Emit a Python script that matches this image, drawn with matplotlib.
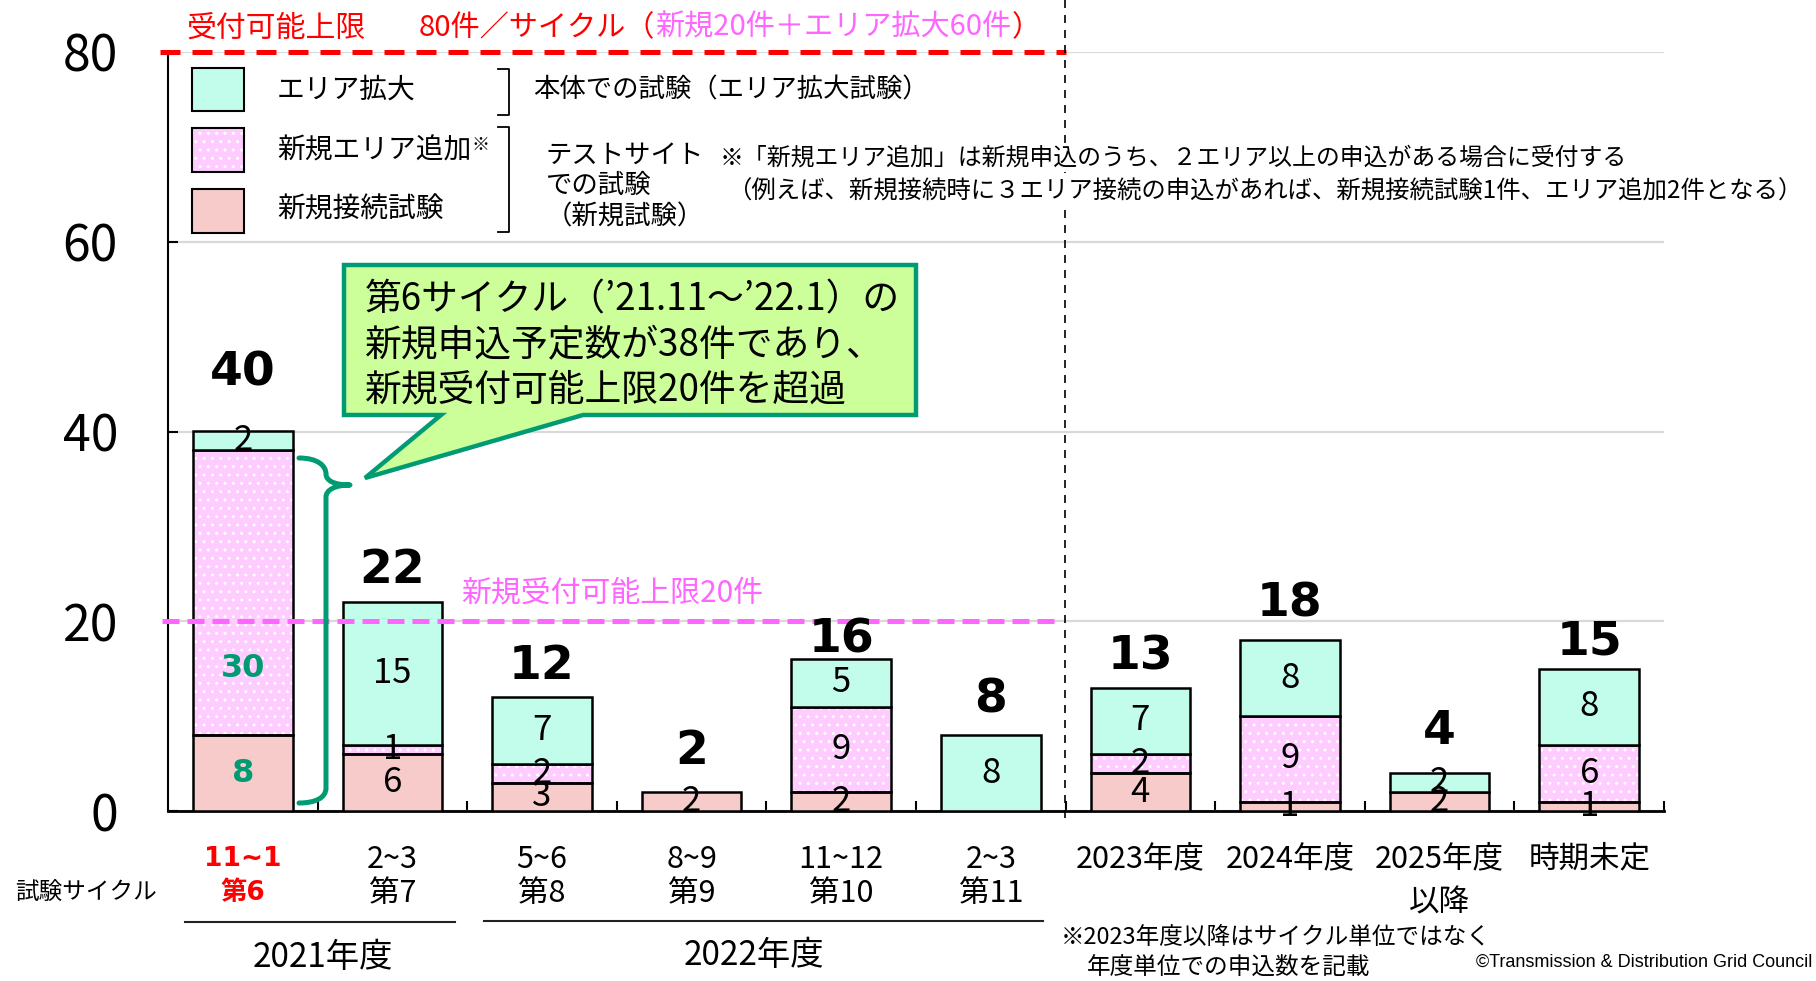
import matplotlib
matplotlib.use('Agg')
import matplotlib.pyplot as plt
from matplotlib import transforms
from matplotlib.patches import Rectangle, Polygon, PathPatch
from matplotlib.path import Path
import numpy as np

plt.rcParams['font.family'] = ['Noto Sans CJK JP', 'DejaVu Sans']

# ---------------- data ----------------
periods = ['11~1', '2~3', '5~6', '8~9', '11~12', '2~3',
           '2023年度', '2024年度', '2025年度', '時期未定']
cycles = ['第6', '第7', '第8', '第9', '第10', '第11', '', '', '以降', '']
new_connection = [8, 6, 3, 2, 2, 0, 4, 1, 2, 1]      # 新規接続試験
new_area = [30, 1, 2, 0, 9, 0, 2, 9, 0, 6]           # 新規エリア追加
area_expansion = [2, 15, 7, 0, 5, 8, 7, 8, 2, 8]     # エリア拡大
yticks = [0, 20, 40, 60, 80]
limit_total = 80
limit_new = 20
fiscal_groups = ['2021年度', '2022年度']
highlight = 0

# ---------------- style / layout ----------------
C_CYAN = '#C2FCEB'
C_PINK = '#FFCCFF'
C_SALMON = '#F8CBCB'
C_GREEN = '#009B72'
C_RED = '#FF0000'
C_MAG = '#FF66FF'
total_offsets = [42, 23, 22, 29, 14, 25, 22, 26, 30, 19]   # points above bar top
label_y_override = {(0, 1): 15}   # (bar, series) -> label y position

W, H = 1816, 981
fig = plt.figure(figsize=(W / 100, H / 100), dpi=100)
ax = fig.add_axes([168 / W, 1 - 811 / H, (1664 - 168) / W, (811 - 52) / H])
PX = transforms.Affine2D().scale(1 / W, -1 / H).translate(0, 1) + fig.transFigure


def T(xp, yp, s, **kw):
    kw.setdefault('va', 'center')
    return fig.text(xp, yp, s, transform=PX, **kw)


x = np.arange(len(periods))
bw = 0.665
nc = np.array(new_connection)
na = np.array(new_area)
ae = np.array(area_expansion)
totals = nc + na + ae

ax.set_xlim(-0.5, len(periods) - 0.5)
ax.set_ylim(0, 80)
for s in ['top', 'right']:
    ax.spines[s].set_visible(False)
ax.spines['left'].set_linewidth(1.5)
ax.spines['bottom'].set_linewidth(2.0)
ax.set_yticks(yticks)
ax.set_yticklabels([str(v) for v in yticks])
ax.tick_params(axis='y', direction='in', length=7, width=1.5, pad=36, labelsize=36)
ax.set_xticks([])
ax.set_xticks(x + 0.5, minor=True)
ax.tick_params(axis='x', which='minor', direction='in', length=7, width=1.5)
ax.yaxis.grid(True, color='#D9D9D9', lw=1.6)
ax.set_axisbelow(True)


def stack(vals, bottoms, color, hatch=None):
    m = vals > 0
    if hatch:
        ax.bar(x[m], vals[m], bw, bottom=bottoms[m], color=color, edgecolor='white',
               hatch=hatch, linewidth=0, zorder=2)
        ax.bar(x[m], vals[m], bw, bottom=bottoms[m], fill=False, edgecolor='black',
               linewidth=1.8, zorder=3)
    else:
        ax.bar(x[m], vals[m], bw, bottom=bottoms[m], color=color, edgecolor='black',
               linewidth=1.8, zorder=3)


b0 = np.zeros(len(x))
stack(nc, b0, C_SALMON)
stack(na, nc, C_PINK, hatch='..')
stack(ae, nc + na, C_CYAN)

for k, (vals, bottoms, is_new) in enumerate([(nc, b0, True), (na, nc, True),
                                             (ae, nc + na, False)]):
    for i, v in enumerate(vals):
        if v <= 0:
            continue
        yy = label_y_override.get((i, k), bottoms[i] + v / 2)
        if i == highlight and is_new:
            ax.text(i, yy, str(v), ha='center', va='center', fontsize=23,
                    color=C_GREEN, fontweight='bold', family=['DejaVu Sans'], zorder=6)
        else:
            ax.text(i, yy, str(v), ha='center', va='center', fontsize=25, zorder=6)

for i, t in enumerate(totals):
    ax.annotate(str(t), xy=(i, t), xytext=(0, total_offsets[i]), textcoords='offset points',
                ha='center', va='center', fontsize=34, fontweight='bold',
                family=['DejaVu Sans'], zorder=6)

# limit lines
ax.plot([-0.553, 5.5], [limit_total] * 2, color=C_RED, lw=3.6, dashes=(4.0, 2.4),
        clip_on=False, zorder=4)
ax.plot([-0.543, 5.44], [limit_new] * 2, color=C_MAG, lw=3.6, dashes=(3.4, 1.6),
        clip_on=False, zorder=4)
fig.add_artist(plt.Line2D([1065, 1065], [0, 820], transform=PX, color='black', lw=1.2,
                          dashes=(4.8, 4.2), zorder=1))
T(461, 593, '新規受付可能上限20件', color=C_MAG, fontsize=21.5)

# header
T(186, 28, '受付可能上限', color=C_RED, fontsize=21.5)
h1 = T(419, 28, '80件／サイクル（', color=C_RED, fontsize=21)
h2 = ax.annotate('新規20件＋エリア拡大60件', xy=(1, 0), xycoords=h1, va='bottom', ha='left',
                 color=C_MAG, fontsize=21)
ax.annotate('）', xy=(1, 0), xycoords=h2, va='bottom', ha='left', color=C_RED, fontsize=21)

# legend
for (y0, y1), col, hatch in [((68, 111), C_CYAN, None), ((128, 172), C_PINK, '..'),
                             ((189, 233), C_SALMON, None)]:
    if hatch:
        fig.add_artist(Rectangle((191.5, y0), 52, y1 - y0, transform=PX, facecolor=col,
                                 edgecolor='white', hatch=hatch, linewidth=0))
        fig.add_artist(Rectangle((191.5, y0), 52, y1 - y0, transform=PX, fill=False,
                                 edgecolor='black', linewidth=1.5))
    else:
        fig.add_artist(Rectangle((191.5, y0), 52, y1 - y0, transform=PX, facecolor=col,
                                 edgecolor='black', linewidth=1.5))
T(277, 90, 'エリア拡大', fontsize=20)
lab2 = T(277, 151, '新規エリア追加', fontsize=20)
ax.annotate('※', xy=(1, 1), xycoords=lab2, va='top', ha='left', fontsize=13)
T(277, 210, '新規接続試験', fontsize=20)
for ya, yb in [(69, 115), (127, 232)]:
    fig.add_artist(plt.Line2D([498, 509, 509, 498], [ya, ya, yb, yb], transform=PX,
                              color='black', lw=1.3))
T(533, 90, '本体での試験（エリア拡大試験）', fontsize=19)
T(546, 155, 'テストサイト', fontsize=19)
T(546, 185, 'での試験', fontsize=19)
T(546, 217, '（新規試験）', fontsize=19)
note_box = dict(facecolor='white', edgecolor='none', pad=2)
T(720, 158, '※「新規エリア追加」は新規申込のうち、２エリア以上の申込がある場合に受付する',
  fontsize=17.2, bbox=note_box, zorder=5)
T(727, 192, '（例えば、新規接続時に３エリア接続の申込があれば、新規接続試験1件、エリア追加2件となる）',
  fontsize=17.6, bbox=note_box, zorder=5)

# callout
fig.add_artist(Polygon([(344, 265), (916, 265), (916, 415), (583, 415), (365, 478),
                        (441, 415), (344, 415)], closed=True, transform=PX,
                       facecolor='#CCFF99', edgecolor=C_GREEN, lw=3.2, joinstyle='miter',
                       zorder=5))
T(365, 300, '第6サイクル（’21.11～’22.1）の', fontsize=26.5, zorder=6)
T(365, 346, '新規申込予定数が38件であり、', fontsize=26.5, zorder=6)
T(365, 390, '新規受付可能上限20件を超過', fontsize=26.5, zorder=6)

# brace
verts = [(299, 458), (318, 458), (326, 466), (326, 474),
         (326, 481), (335, 485), (350, 485),
         (335, 485), (326, 490), (326, 497),
         (326, 788),
         (326, 798), (315, 803), (299, 803)]
codes = [Path.MOVETO] + [Path.CURVE4] * 9 + [Path.LINETO] + [Path.CURVE4] * 3
fig.add_artist(PathPatch(Path(verts, codes), transform=PX, fill=False, edgecolor=C_GREEN,
                         lw=3.6, capstyle='round', joinstyle='round', zorder=5))

# category labels
xl = transforms.blended_transform_factory(ax.transData, PX)
for i in range(len(periods)):
    if i == highlight:
        kw = dict(color=C_RED, fontweight='bold', family=['DejaVu Sans', 'Noto Sans CJK JP'],
                  fontsize=19)
    else:
        kw = dict(fontsize=22)
    ax.text(i, 859, periods[i], transform=xl, ha='center', va='center', **kw)
    if cycles[i]:
        yy = 893 if cycles[i].startswith('第') else 903
        ax.text(i, yy, cycles[i], transform=xl, ha='center', va='center', **kw)
T(15, 892, '試験サイクル', fontsize=17)

fig.add_artist(plt.Line2D([184.5, 454.6], [922, 922], transform=PX, color='#222222', lw=1.5))
fig.add_artist(plt.Line2D([484, 1043], [921, 921], transform=PX, color='#222222', lw=1.5))
T(323, 958, fiscal_groups[0], fontsize=24, ha='center')
T(754, 955, fiscal_groups[1], fontsize=24, ha='center')

T(1061, 938, '※2023年度以降はサイクル単位ではなく', fontsize=17)
T(1087, 968, '年度単位での申込数を記載', fontsize=17)
T(1812, 962, '©Transmission & Distribution Grid Council', fontsize=13, ha='right',
  family=['Liberation Sans', 'DejaVu Sans'])

fig.savefig('out.png', dpi=100)
